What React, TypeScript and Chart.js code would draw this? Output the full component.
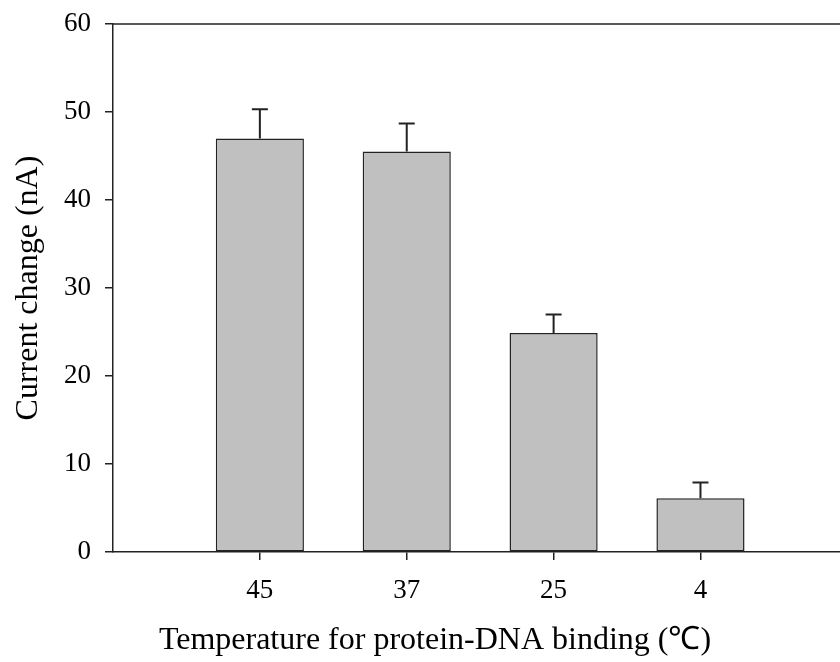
import React, { useEffect, useRef } from 'react';
import { Chart, registerables } from 'chart.js';

Chart.register(...registerables);

const categories = ['45', '37', '25', '4'];
const currentChange = [47.0, 45.5, 24.9, 6.1];
const errorUp = [3.3, 3.2, 2.1, 1.8];
const yMin = 0;
const yMax = 60;
const yStep = 10;
const xTitle = 'Temperature for protein-DNA binding (\u2103)';
const yTitle = 'Current change (nA)';

const FONT = '"Liberation Serif", "Times New Roman", serif';
const LINE = '#222';

const errorBarPlugin = {
  id: 'errorBars',
  afterDatasetsDraw(chart: any) {
    const xs = chart.scales.x;
    const ys = chart.scales.y;
    const ctx = chart.ctx;
    ctx.save();
    ctx.strokeStyle = LINE;
    ctx.lineWidth = 2;
    currentChange.forEach((v, i) => {
      const x = xs.getPixelForValue(i + 1);
      const y0 = ys.getPixelForValue(v);
      const y1 = ys.getPixelForValue(v + errorUp[i]);
      ctx.beginPath();
      ctx.moveTo(x, y0);
      ctx.lineTo(x, y1);
      ctx.moveTo(x - 8, y1);
      ctx.lineTo(x + 8, y1);
      ctx.stroke();
    });
    ctx.restore();
  },
};

const framePlugin = {
  id: 'frameTop',
  afterDraw(chart: any) {
    const { ctx, chartArea } = chart;
    ctx.save();
    ctx.strokeStyle = LINE;
    ctx.lineWidth = 1.5;
    ctx.beginPath();
    ctx.moveTo(chartArea.left, chartArea.top);
    ctx.lineTo(chartArea.right, chartArea.top);
    ctx.stroke();
    ctx.fillStyle = '#000';
    ctx.font = '32px ' + FONT;
    ctx.textAlign = 'center';
    ctx.textBaseline = 'middle';
    ctx.fillText(xTitle, 435, 641);
    ctx.restore();
  },
};

export default function App() {
  const ref = useRef<HTMLCanvasElement>(null);

  useEffect(() => {
    document.body.style.margin = '0';
    const canvas = ref.current;
    if (!canvas) return;
    const chart = new Chart(canvas, {
      type: 'bar',
      data: {
        datasets: [
          {
            data: categories.map((_, i) => ({ x: i + 1, y: currentChange[i] })),
            backgroundColor: '#c0c0c0',
            borderColor: LINE,
            borderWidth: 1.5,
            borderSkipped: false,
            categoryPercentage: 1,
            barPercentage: 0.6,
          },
        ],
      },
      options: {
        animation: false,
        responsive: false,
        maintainAspectRatio: false,
        layout: { padding: { top: 24, left: 0, right: 0, bottom: 0 } },
        plugins: { legend: { display: false }, tooltip: { enabled: false }, title: { display: false } },
        scales: {
          x: {
            type: 'linear',
            min: 0,
            max: 4.95,
            offset: false,
            afterBuildTicks: (scale: any) => {
              scale.ticks = categories.map((_, i) => ({ value: i + 1 }));
            },
            afterFit: (scale: any) => {
              scale.height = 110;
              scale.paddingLeft = 0;
              scale.paddingRight = 0;
            },
            ticks: {
              callback: (v: any) => categories[Number(v) - 1] ?? '',
              font: { family: FONT, size: 27 },
              color: '#000',
              padding: 15,
              maxRotation: 0,
              autoSkip: false,
            },
            grid: { offset: false, drawOnChartArea: false, drawTicks: true, tickLength: 8, color: LINE, lineWidth: 1.5 },
            border: { display: true, color: LINE, width: 1.5 },
          },
          y: {
            type: 'linear',
            min: yMin,
            max: yMax,
            afterFit: (scale: any) => {
              scale.width = 113;
              scale.paddingTop = 0;
              scale.paddingBottom = 0;
            },
            ticks: {
              stepSize: yStep,
              font: { family: FONT, size: 27 },
              color: '#000',
              padding: 14,
            },
            grid: { drawOnChartArea: false, drawTicks: true, tickLength: 8, color: LINE, lineWidth: 1.5 },
            border: { display: true, color: LINE, width: 1.5 },
            title: {
              display: true,
              text: yTitle,
              font: { family: FONT, size: 32 },
              color: '#000',
              padding: { top: 9, bottom: 0 },
            },
          },
        },
      },
      plugins: [errorBarPlugin, framePlugin],
    });
    return () => chart.destroy();
  }, []);

  return (
    <div style={{ width: 840, height: 662 }}>
      <canvas ref={ref} width={840} height={662} style={{ display: 'block' }} />
    </div>
  );
}
